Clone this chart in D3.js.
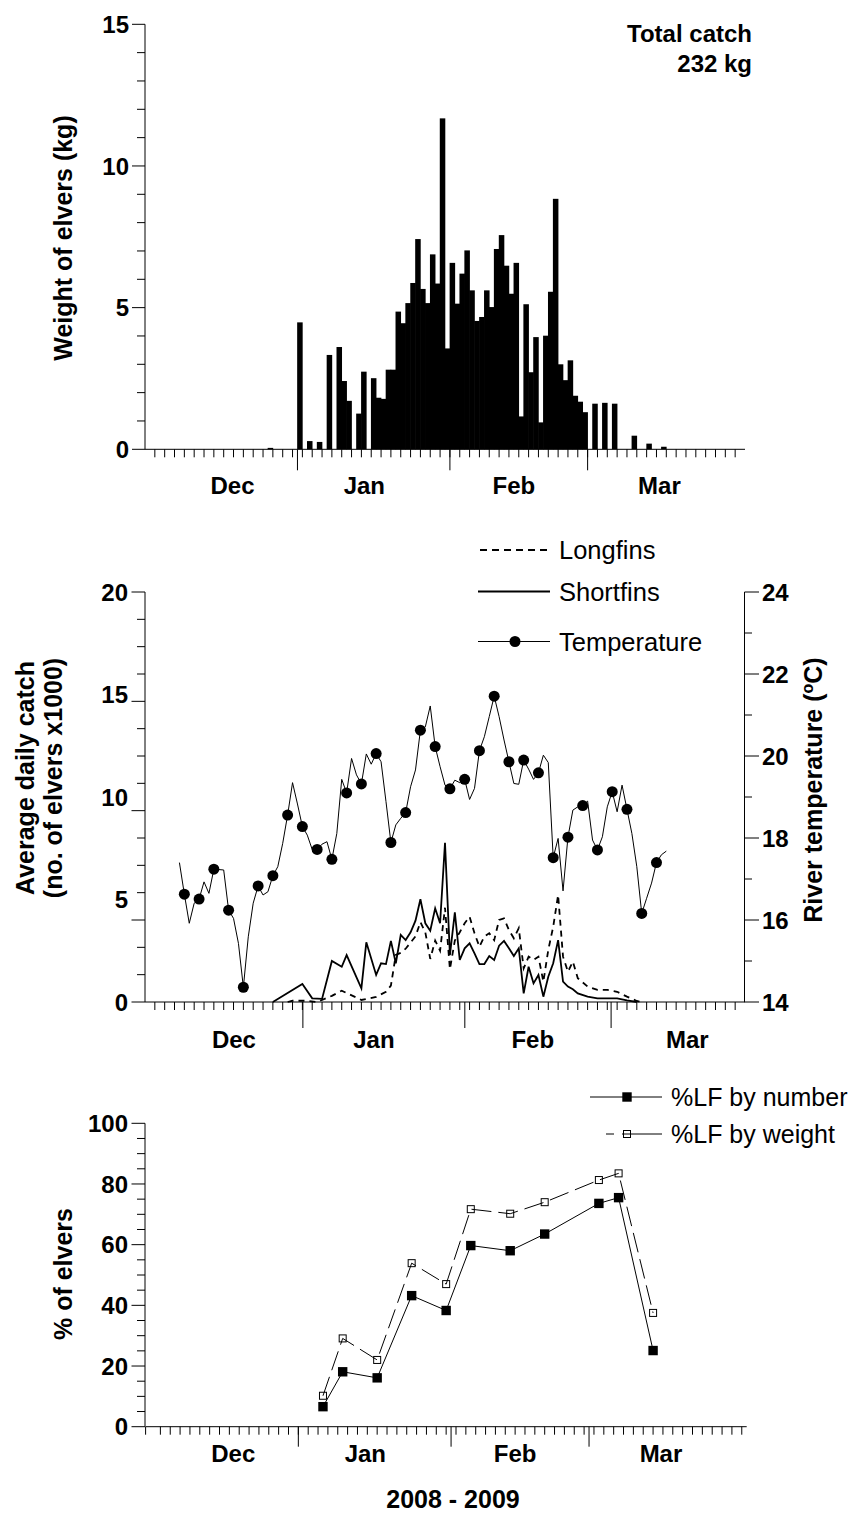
<!DOCTYPE html>
<html><head><meta charset="utf-8">
<script src="https://cdn.jsdelivr.net/npm/d3@7"></script>
<style>
body{margin:0;background:#fff}
svg{display:block}
text{font-family:"Liberation Sans",Arial,Helvetica,sans-serif;fill:#000}
</style></head><body>
<svg id="chart" width="853" height="1517"></svg>
<script>
// ---------------- DATA ----------------
const originDate = "2008-12-01";              // day 0 of the season axis
const monthNames = ["Dec", "Jan", "Feb", "Mar"];
const monthStartDates = ["2009-01-01", "2009-02-01", "2009-03-01"];
const monthLabelDay = [17.8, 44.6, 75.0, 104.6]; // label anchors (days after 1 Dec)
const xAxisTitle = "2008 - 2009";

// Panel 1: daily weight of elvers (kg)
const catchDates = ["2008-12-26","2009-01-01","2009-01-03","2009-01-05","2009-01-07","2009-01-09","2009-01-10","2009-01-11",
  "2009-01-13","2009-01-14","2009-01-16","2009-01-17","2009-01-18","2009-01-19","2009-01-20","2009-01-21","2009-01-22",
  "2009-01-23","2009-01-24","2009-01-25","2009-01-26","2009-01-27","2009-01-28","2009-01-29","2009-01-30","2009-01-31",
  "2009-02-01","2009-02-02","2009-02-03","2009-02-04","2009-02-05","2009-02-06","2009-02-07","2009-02-08","2009-02-09",
  "2009-02-10","2009-02-11","2009-02-12","2009-02-13","2009-02-14","2009-02-15","2009-02-16","2009-02-17","2009-02-18",
  "2009-02-19","2009-02-20","2009-02-21","2009-02-22","2009-02-23","2009-02-24","2009-02-25","2009-02-26","2009-02-27",
  "2009-02-28","2009-03-02","2009-03-04","2009-03-06","2009-03-10","2009-03-13","2009-03-16"];
const catchKg = [0.05,4.48,0.29,0.26,3.33,3.61,2.41,1.71,
  1.26,2.74,2.51,1.82,1.78,2.81,2.81,4.86,4.45,
  5.16,5.87,7.42,5.66,5.16,6.88,5.85,11.68,3.56,
  6.58,5.14,6.20,7.02,5.61,4.53,4.67,5.61,5.02,
  7.07,7.56,6.48,5.49,6.58,1.16,5.12,2.72,3.96,
  0.95,4.01,5.56,8.84,3.00,2.44,3.14,1.89,1.68,
  1.31,1.61,1.64,1.61,0.48,0.20,0.09];
const totalCatchText = ["Total catch", "232 kg"];

// Panel 2: daily river temperature (°C), one value per day from tempStart
const tempStart = "2008-12-08";
const tempC = [17.40,16.63,15.92,16.41,16.51,16.93,16.65,17.24,17.23,17.22,
  16.24,16.04,15.43,14.36,15.59,16.41,16.83,16.61,16.69,17.08,
  17.30,17.87,18.56,19.35,18.83,18.28,18.07,17.72,17.72,17.85,
  17.91,17.48,18.11,19.43,19.10,19.94,19.54,19.32,20.05,19.80,
  20.06,19.86,18.89,17.89,18.32,18.48,18.62,19.25,19.66,20.63,
  20.71,21.22,20.23,19.74,19.29,19.20,19.41,19.35,19.43,18.94,
  19.21,20.13,20.47,20.96,21.46,20.96,20.39,19.86,19.33,19.31,
  19.90,19.68,19.43,19.59,20.02,19.84,17.52,17.99,16.71,18.02,
  18.68,18.76,18.79,18.90,17.95,17.71,18.03,18.76,19.13,18.64,
  19.29,18.70,18.11,17.30,16.16,16.53,16.90,17.40,17.59,17.68];
// Average daily catch (x1000 elvers); day = days after 1 Dec 2008
const shortfinDay = [26,32,34,36,38,40,41,44,45,47,48,49,50,51,52,53,54,55,56,57,58,59,60,61,62,63,64,65,66,67,68,69,70,
  71,72,73,74,75,76,77,78,79,80,81,82,83,84,85,86,87,88,90,92,94,96,98,100];
const shortfinVal = [0,0.88,0.18,0.15,2.00,1.72,2.29,0.67,2.91,1.32,1.89,1.85,2.98,1.89,3.27,3.02,3.40,3.97,5.01,3.84,3.48,4.57,3.84,7.77,2.29,4.37,2.05,2.62,2.86,2.37,1.85,1.85,2.24,
  2.05,2.75,2.98,2.62,2.24,2.62,0.42,1.72,0.91,1.32,0.26,1.23,1.89,3.02,0.99,0.75,0.62,0.42,0.26,0.18,0.18,0.18,0.08,0];
const longfinDay = [29,30,33,35,38,40,44,47,49,50,51,52,53,54,55,56,57,58,59,60,61,62,63,64,65,66,67,68,69,70,
  71,72,73,74,75,76,77,78,79,80,81,82,83,84,85,86,87,88,90,92,94,96,98,100,101];
const longfinVal = [0,0.06,0.06,0,0.30,0.55,0.10,0.25,0.50,0.80,2.30,2.40,2.60,2.90,3.20,3.90,3.40,2.10,3.00,2.50,4.60,1.60,3.00,3.40,3.84,4.16,3.35,2.70,3.19,3.35,
  3.02,4.00,4.08,3.51,3.11,3.60,1.64,2.21,2.05,2.21,0.99,2.54,3.67,5.22,2.21,1.48,1.97,1.16,0.75,0.59,0.59,0.50,0.26,0.05,0];
const legendMid = ["Longfins", "Shortfins", "Temperature"];

// Panel 3: % longfins
const lfDates = ["2009-01-06","2009-01-10","2009-01-17","2009-01-24","2009-01-31","2009-02-05","2009-02-13","2009-02-20","2009-03-03","2009-03-07","2009-03-14"];
const lfByNumber = [6.6,18.1,16.1,43.2,38.3,59.7,58.0,63.5,73.6,75.5,25.1];
const lfByWeight = [10.2,29.1,22.0,53.9,47.0,71.7,70.2,74.0,81.3,83.5,37.5];
const legendBot = ["%LF by number", "%LF by weight"];

// ---------------- HELPERS ----------------
const parse = d3.utcParse("%Y-%m-%d");
const day0 = parse(originDate);
const dayOf = s => d3.utcDay.count(day0, parse(s));
const svg = d3.select("#chart");

function seg(g, x1, y1, x2, y2, w = 1, dash = null) {
  const l = g.append("line").attr("x1", x1).attr("y1", y1).attr("x2", x2).attr("y2", y2)
    .attr("stroke", "#000").attr("stroke-width", w);
  if (dash) l.attr("stroke-dasharray", dash);
  return l;
}
function txt(g, x, y, s, size, weight, anchor, rot) {
  const t = g.append("text").attr("font-size", size).attr("font-weight", weight)
    .attr("text-anchor", anchor).attr("dy", "0.36em");
  if (rot) t.attr("transform", `translate(${x},${y}) rotate(${rot})`);
  else t.attr("x", x).attr("y", y);
  t.text(s);
  return t;
}
function xAxis(g, y0, xLine, xMinor, minorDays, xMonth, tickLen, labelY) {
  seg(g, xLine.range()[0], y0, xLine.range()[1], y0);
  minorDays.forEach(d => seg(g, xMinor(d), y0, xMinor(d), y0 + 8));
  monthStartDates.forEach(m => seg(g, xMonth(dayOf(m)), y0, xMonth(dayOf(m)), y0 + tickLen));
  monthNames.forEach((m, i) => txt(g, xMonth(monthLabelDay[i]), labelY, m, 24, "bold", "middle"));
}

// ---------------- SCALES ----------------
const xTop = d3.scaleLinear().domain([0, 122]).range([145, 745]);
const xMid = d3.scaleLinear().domain([0, 122]).range([145, 745]);
const xMidMonth = d3.scaleLinear().domain([0.78, 115.63]).range([145, 745]);
const xBot = d3.scaleLinear().domain([0, 122]).range([145.6, 746.7]);
const minorEven = d3.range(2, 121, 2);
const minorOdd = [0].concat(d3.range(3, 122, 2));

const yTop = d3.scaleLinear().domain([0, 15]).range([449.3, 24.3]);
const yMidL = d3.scaleLinear().domain([0, 20]).range([1002, 592]);
const yMidTick = d3.scaleLinear().domain([0, 15]).range([1002, 592]);
const yMidR = d3.scaleLinear().domain([14, 24]).range([1002, 592]);
const yBot = d3.scaleLinear().domain([0, 100]).range([1426.7, 1123.3]);

// ---------------- PANEL 1 ----------------
const g1 = svg.append("g");
const dayW = xTop(1) - xTop(0);
g1.selectAll("rect.bar").data(catchDates.map((d, i) => ({ d: dayOf(d), v: catchKg[i] })))
  .join("rect").attr("class", "bar")
  .attr("x", p => xTop(p.d) - 0.3).attr("width", dayW + 0.6)
  .attr("y", p => yTop(p.v)).attr("height", p => yTop(0) - yTop(p.v))
  .attr("fill", "#000");
seg(g1, 145, yTop(0), 145, yTop(15));
d3.range(0, 16).forEach(v => seg(g1, v % 5 === 0 ? 132 : 137, yTop(v), 145, yTop(v)));
[0, 5, 10, 15].forEach(v => txt(g1, 129, yTop(v), v, 24, "bold", "end"));
xAxis(g1, yTop(0), xTop, xTop, minorEven, xTop, 21, 485);
txt(g1, 63, 238, "Weight of elvers (kg)", 25, "bold", "middle", -90);
txt(g1, 752, 33, totalCatchText[0], 24, "bold", "end");
txt(g1, 752, 63, totalCatchText[1], 24, "bold", "end");

// ---------------- PANEL 2 ----------------
const g2 = svg.append("g");
const t0 = dayOf(tempStart);
const tempPts = tempC.map((v, i) => ({ d: t0 + i, v }));
g2.append("path").datum(tempPts)
  .attr("d", d3.line().x(p => xMid(p.d)).y(p => yMidR(p.v)))
  .attr("fill", "none").attr("stroke", "#000").attr("stroke-width", 1);
g2.selectAll("circle.temp").data(tempPts.filter((p, i) => i % 3 === 1))
  .join("circle").attr("class", "temp")
  .attr("cx", p => xMid(p.d)).attr("cy", p => yMidR(p.v)).attr("r", 5.5).attr("fill", "#000");
g2.append("path").datum(longfinDay.map((d, i) => ({ d, v: longfinVal[i] })))
  .attr("d", d3.line().x(p => xMid(p.d)).y(p => yMidL(p.v)))
  .attr("fill", "none").attr("stroke", "#000").attr("stroke-width", 1.8).attr("stroke-dasharray", "6,5");
g2.append("path").datum(shortfinDay.map((d, i) => ({ d, v: shortfinVal[i] })))
  .attr("d", d3.line().x(p => xMid(p.d)).y(p => yMidL(p.v)))
  .attr("fill", "none").attr("stroke", "#000").attr("stroke-width", 1.8);
// left axis
seg(g2, 145, yMidL(0), 145, yMidL(20));
d3.range(0, 16).forEach(v => seg(g2, [0, 3, 7, 11, 15].includes(v) ? 131.5 : 137, yMidTick(v), 145, yMidTick(v)));
[0, 5, 10, 15, 20].forEach(v => txt(g2, 128, yMidL(v), v, 24, "bold", "end"));
// right axis
seg(g2, 744.5, yMidR(14), 744.5, yMidR(24));
d3.range(14, 25).forEach(v => seg(g2, 744.5, yMidR(v), v % 2 === 0 ? 759 : 752, yMidR(v)));
[14, 16, 18, 20, 22, 24].forEach(v => txt(g2, 762, yMidR(v), v, 24, "bold", "start"));
xAxis(g2, yMidL(0), xMid, xMid, minorEven, xMidMonth, 26, 1039);
txt(g2, 25, 778, "Average daily catch", 25, "bold", "middle", -90);
txt(g2, 53, 778, "(no. of elvers x1000)", 25, "bold", "middle", -90);
const rt = g2.append("text").attr("font-size", 25).attr("font-weight", "bold").attr("text-anchor", "middle")
  .attr("dy", "0.36em").attr("transform", "translate(813,790) rotate(-90)");
rt.append("tspan").text("River temperature (");
rt.append("tspan").attr("font-size", 16).attr("dy", -9).text("o");
rt.append("tspan").attr("dy", 9).text("C)");
// legend
const legY = [550, 591.5, 641.5];
seg(g2, 480, legY[0], 552, legY[0], 1.8, "7,5");
seg(g2, 478, legY[1], 550, legY[1], 1.8);
seg(g2, 478, legY[2], 550, legY[2], 1);
g2.append("circle").attr("cx", 515).attr("cy", legY[2]).attr("r", 5.5).attr("fill", "#000");
legendMid.forEach((s, i) => txt(g2, 559, legY[i], s, 25.5, "normal", "start"));

// ---------------- PANEL 3 ----------------
const g3 = svg.append("g");
const numPts = lfDates.map((d, i) => ({ d: dayOf(d), v: lfByNumber[i] }));
const wtPts = lfDates.map((d, i) => ({ d: dayOf(d), v: lfByWeight[i] }));
g3.append("path").datum(wtPts).attr("d", d3.line().x(p => xBot(p.d)).y(p => yBot(p.v)))
  .attr("fill", "none").attr("stroke", "#000").attr("stroke-width", 1).attr("stroke-dasharray", "20,7");
g3.append("path").datum(numPts).attr("d", d3.line().x(p => xBot(p.d)).y(p => yBot(p.v)))
  .attr("fill", "none").attr("stroke", "#000").attr("stroke-width", 1);
g3.selectAll("rect.wt").data(wtPts).join("rect").attr("class", "wt")
  .attr("x", p => xBot(p.d) - 3.5).attr("y", p => yBot(p.v) - 3.5).attr("width", 7).attr("height", 7)
  .attr("fill", "none").attr("stroke", "#000").attr("stroke-width", 1);
g3.selectAll("rect.num").data(numPts).join("rect").attr("class", "num")
  .attr("x", p => xBot(p.d) - 4.7).attr("y", p => yBot(p.v) - 4.7).attr("width", 9.4).attr("height", 9.4)
  .attr("fill", "#000");
seg(g3, 145, yBot(0), 145, yBot(100));
d3.range(0, 101, 5).forEach(v => seg(g3, v % 20 === 0 ? 131.5 : 137, yBot(v), 145, yBot(v)));
d3.range(0, 101, 20).forEach(v => txt(g3, 128, yBot(v), v, 24, "bold", "end"));
xAxis(g3, yBot(0), xBot, xBot, minorOdd, xBot, 20, 1453);
txt(g3, 63, 1274, "% of elvers", 25, "bold", "middle", -90);
txt(g3, 453, 1499, xAxisTitle, 25, "bold", "middle");
const lb = [1097, 1134];
seg(g3, 590, lb[0], 662, lb[0], 1);
g3.append("rect").attr("x", 627 - 4.7).attr("y", lb[0] - 4.7).attr("width", 9.4).attr("height", 9.4).attr("fill", "#000");
seg(g3, 606, lb[1], 662, lb[1], 1, "8,8,40");
g3.append("rect").attr("x", 627 - 3.5).attr("y", lb[1] - 3.5).attr("width", 7).attr("height", 7)
  .attr("fill", "none").attr("stroke", "#000");
legendBot.forEach((s, i) => txt(g3, 671, lb[i], s, 25, "normal", "start"));
</script>
</body></html>
